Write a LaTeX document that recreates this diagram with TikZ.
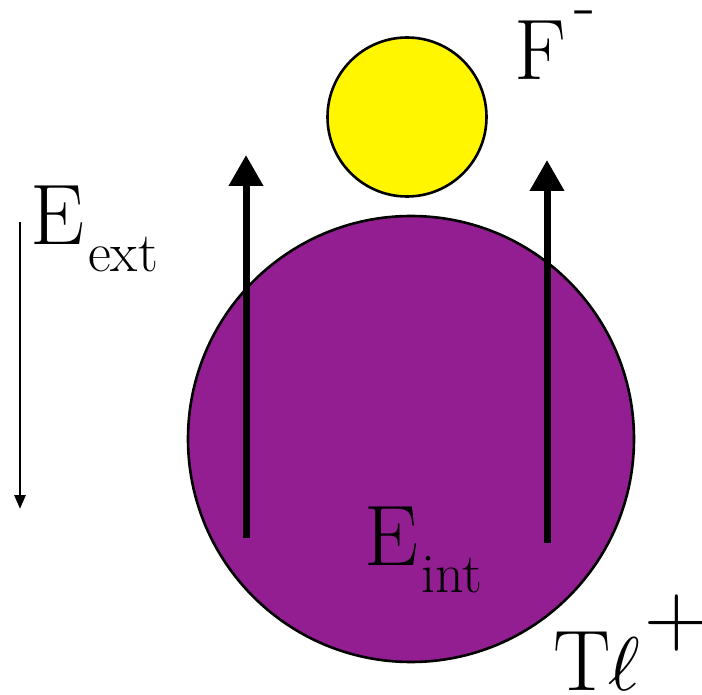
\documentclass[tikz,border=0pt]{standalone}
\usepackage{fix-cm}
\usepackage{graphicx}
\usetikzlibrary{arrows.meta}
\definecolor{ionpurple}{RGB}{146,30,146}
\definecolor{ionyellow}{RGB}{255,246,0}
\tikzset{
  lbl/.style={inner sep=0pt, anchor=base west, font=\fontsize{86}{86}\selectfont},
  sublbl/.style={inner sep=0pt, anchor=base west, font=\fontsize{56}{56}\selectfont},
  ion/.style={circle, draw=black, line width=2.6pt, inner sep=0pt},
  bigarrow/.style={line width=7pt, -{Triangle[width=33pt,length=31pt]}},
  fieldarrow/.style={line width=2.6pt, -{Triangle[width=11pt,length=14pt]}}
}
\begin{document}
\begin{tikzpicture}[x=1pt,y=-1pt]
\useasboundingbox (0,0) rectangle (702,695);
% ions
\node[ion, fill=ionpurple, minimum size=446pt] (tl) at (411,439) {};
\node[ion, fill=ionyellow, minimum size=159pt] (f) at (407,117) {};
% internal field arrows
\coordinate (la0) at (246,538);
\coordinate (la1) at (246,155);
\coordinate (ra0) at (547,543);
\coordinate (ra1) at (547,160);
\draw[bigarrow] (la0) -- (la1);
\draw[bigarrow] (ra0) -- (ra1);
% external field arrow
\coordinate (ea0) at (20,222);
\coordinate (ea1) at (20,509);
\draw[fieldarrow] (ea0) -- (ea1);
% labels
\node[lbl] (eext) at (30,245) {E};
\node[sublbl] (eextsub) at (88,272) {ext};
\node[lbl] (fl) at (514,80) {F};
\node[inner sep=0pt, anchor=base west, font=\fontsize{70}{70}\selectfont] (fminus) at (574,28) {-};
\node[lbl] (eint) at (364,565) {E};
\node[sublbl] (eintsub) at (421,592) {int};
\node[lbl] (tll) at (553,690) {T};
\node[inner sep=0pt, anchor=base west] (tlell) at (608,690) {\scalebox{7.6}{$\ell$}};
\node[inner sep=0pt, anchor=base west, font=\fontsize{90}{90}\selectfont] (tlplus) at (644,645) {+};
\end{tikzpicture}
\end{document}
